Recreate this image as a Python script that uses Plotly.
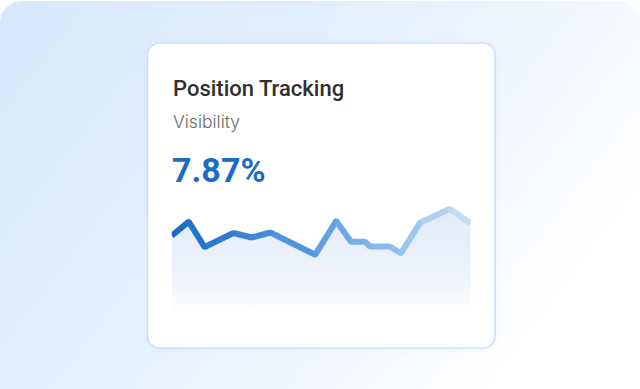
import base64
import plotly.graph_objects as go

# ---- data ----
days = [0, 1.7, 3.3, 6.2, 8.0, 9.9, 14.4, 16.5, 18.0, 19.4, 19.9, 21.9, 23.0, 24.9, 27.9, 30.0]
visibility = [7.93, 9.33, 6.8, 8.2, 7.75, 8.25, 6.03, 9.4, 7.33, 7.33, 6.85, 6.85, 6.17, 9.22, 10.6, 9.17]
title_text = "Position Tracking"
metric_label = "Visibility"
metric_value = "7.87%"

W, H = 640, 389

# ---- background + card as an SVG image (decoration) ----
svg = f"""<svg xmlns='http://www.w3.org/2000/svg' width='{W}' height='{H}' viewBox='0 0 {W} {H}'>
<defs>
<linearGradient id='bg' x1='0' y1='0' x2='1' y2='0.5'>
<stop offset='0' stop-color='#d7e7fc'/>
<stop offset='0.55' stop-color='#e8f1fd'/>
<stop offset='0.85' stop-color='#f8fbff'/>
<stop offset='1' stop-color='#ffffff'/>
</linearGradient>
<filter id='sh' x='-10%' y='-10%' width='120%' height='120%'>
<feGaussianBlur stdDeviation='3'/>
</filter>
</defs>
<rect x='0' y='1' width='{W}' height='{H+30}' rx='22' ry='22' fill='url(#bg)'/>
<rect x='147' y='44' width='348' height='305' rx='12' ry='12' fill='#d9e7f8' opacity='0.5' filter='url(#sh)'/>
<rect x='147.5' y='43' width='347.5' height='305' rx='12' ry='12' fill='#ffffff' stroke='#cde0f6' stroke-width='1.6'/>
</svg>"""
src = "data:image/svg+xml;base64," + base64.b64encode(svg.encode()).decode()

fig = go.Figure()

# area fill with vertical gradient
fig.add_trace(go.Scatter(
    x=days, y=visibility, mode="none", fill="tozeroy",
    fillgradient=dict(type="vertical", start=0, stop=10.6,
                      colorscale=[[0, "rgba(255,255,255,1)"], [0.3, "#f0f4fb"], [1, "#e0eaf7"]]),
    hoverinfo="skip", showlegend=False,
))

# line with horizontal colour gradient, drawn segment by segment
stops = [(0.0, (24, 106, 198)), (0.5, (94, 158, 226)), (1.0, (201, 224, 248))]

def col(t):
    for (t0, c0), (t1, c1) in zip(stops[:-1], stops[1:]):
        if t <= t1:
            f = (t - t0) / (t1 - t0)
            return "rgb(%d,%d,%d)" % tuple(round(a + (b - a) * f) for a, b in zip(c0, c1))
    return "rgb(%d,%d,%d)" % stops[-1][1]

x0, x1 = days[0], days[-1]
for i in range(len(days) - 1):
    tm = ((days[i] + days[i + 1]) / 2 - x0) / (x1 - x0)
    fig.add_trace(go.Scatter(
        x=days[i:i + 2], y=visibility[i:i + 2], mode="lines",
        line=dict(color=col(tm), width=6),
        hoverinfo="skip", showlegend=False,
    ))
# joints
fig.add_trace(go.Scatter(
    x=days[1:-1], y=visibility[1:-1], mode="markers",
    marker=dict(size=5.5, color=[col((d - x0) / (x1 - x0)) for d in days[1:-1]], line=dict(width=0)),
    hoverinfo="skip", showlegend=False,
))

fig.update_layout(
    width=W, height=H,
    margin=dict(l=0, r=0, t=0, b=0),
    paper_bgcolor="white", plot_bgcolor="rgba(0,0,0,0)",
    xaxis=dict(domain=[171.7 / W, 470.7 / W], range=[x0, x1], visible=False, fixedrange=True),
    yaxis=dict(domain=[(H - 315) / H, (H - 205) / H], range=[0, 11], visible=False, fixedrange=True),
    images=[dict(source=src, xref="paper", yref="paper", x=0, y=1, sizex=1, sizey=1,
                 sizing="stretch", xanchor="left", yanchor="top", layer="below")],
    annotations=[
        dict(text=title_text, xref="paper", yref="paper", x=171 / W, y=1 - 88.5 / H,
             xanchor="left", yanchor="middle", showarrow=False,
             font=dict(family="Roboto", size=22, color="#303030", weight=500)),
        dict(text=metric_label, xref="paper", yref="paper", x=171 / W, y=1 - 121.5 / H,
             xanchor="left", yanchor="middle", showarrow=False,
             font=dict(family="Inter", size=17.5, color="#686868", weight=300)),
        dict(text=metric_value, xref="paper", yref="paper", x=170 / W, y=1 - 170 / H,
             xanchor="left", yanchor="middle", showarrow=False,
             font=dict(family="Roboto", size=34, color="#1a6cc8", weight=700)),
    ],
    hovermode=False,
)

fig.write_html("out.html", config={"displayModeBar": False, "staticPlot": True})
